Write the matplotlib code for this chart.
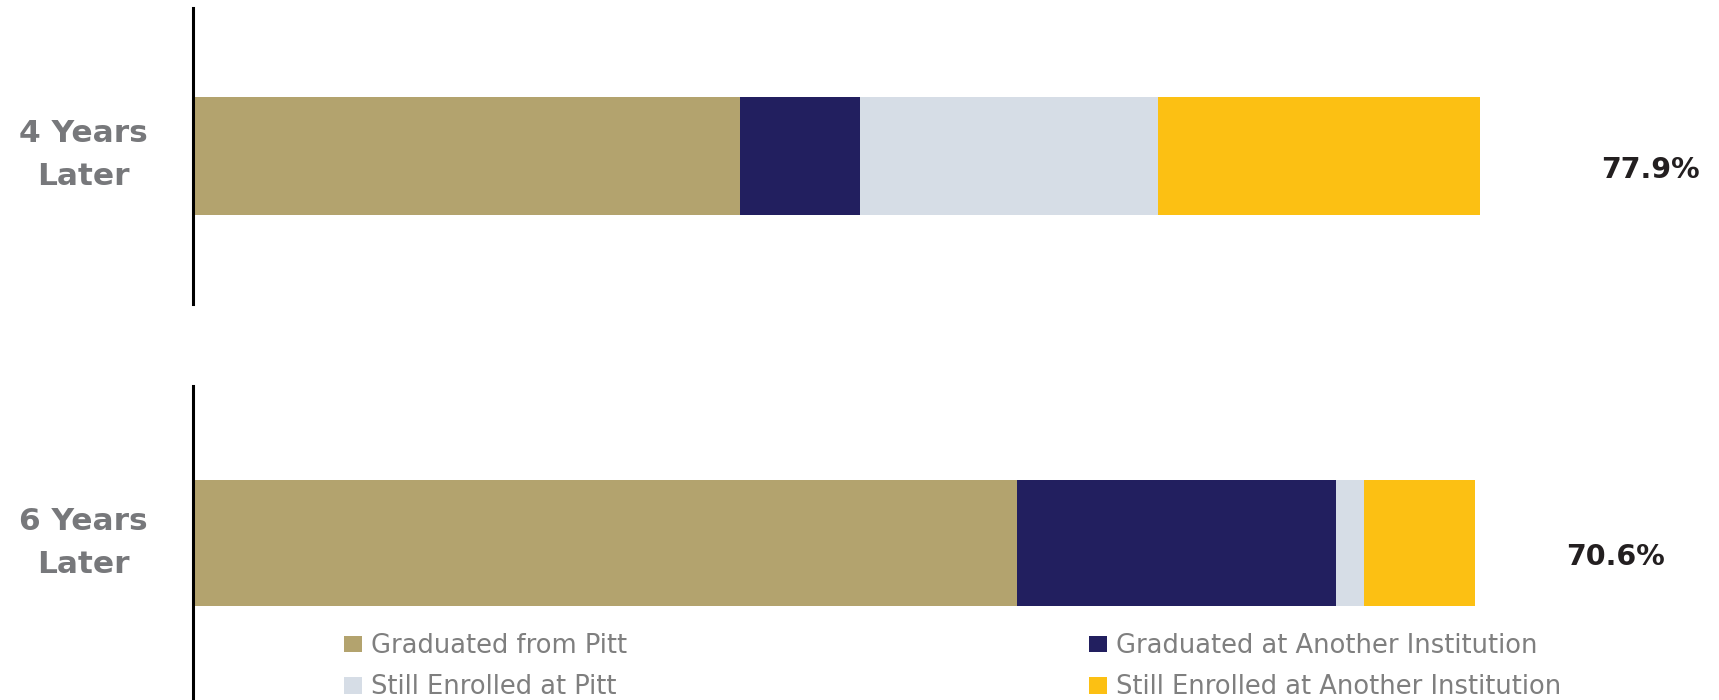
import matplotlib.pyplot as plt
from matplotlib.patches import Patch

# Shares (%)
categories = ["4 Years\nLater", "6 Years\nLater"]
series = [
    "Graduated from Pitt",
    "Graduated at Another Institution",
    "Still Enrolled at Pitt",
    "Still Enrolled at Another Institution",
]
grad_pitt = [38.0, 57.2]
grad_other = [8.3, 22.2]
enrolled_pitt = [20.7, 1.9]
enrolled_other = [22.4, 7.7]
totals = ["77.9%", "70.6%"]

colors = ["#b3a36e", "#221f5f", "#d6dde6", "#fcc013"]
label_gray = "#77787b"
legend_gray = "#7f7f7f"

fig = plt.figure(figsize=(17.19, 7.0), dpi=100)
ax_top = fig.add_axes([193 / 1719, 1 - 304 / 700, 1440 / 1719, 296 / 700])
ax_bot = fig.add_axes([193 / 1719, 0.0, 1440 / 1719, 314 / 700])

values = list(zip(grad_pitt, grad_other, enrolled_pitt, enrolled_other))
total_x = [101.2, 98.8]
cat_y = [1 - 155 / 700, 1 - 543 / 700]

for i, ax in enumerate([ax_top, ax_bot]):
    left = 0
    for v, col in zip(values[i], colors):
        ax.barh(0, v, left=left, height=0.4, color=col)
        left += v
    ax.set_xlim(0, 100)
    ax.set_ylim(-0.5, 0.5)
    for s in ["top", "right", "bottom"]:
        ax.spines[s].set_visible(False)
    ax.spines["left"].set_linewidth(2.2)
    ax.spines["left"].set_color("black")
    ax.set_xticks([])
    ax.set_yticks([])
    ax.text(total_x[i], -0.046, totals[i], ha="center", va="center",
            fontsize=20.5, fontweight="bold", color="#231f20", clip_on=False)
    fig.text(0.0483, cat_y[i], categories[i], ha="center", va="center",
             fontsize=22.5, fontweight="bold", color=label_gray, linespacing=1.6)

handles = [Patch(facecolor=c, edgecolor="none") for c in colors]
leg_kw = dict(loc="upper left", frameon=False, borderpad=0, borderaxespad=0,
              handlelength=0.7, handleheight=0.6, handletextpad=0.35,
              labelspacing=0.6, labelcolor=legend_gray,
              prop={"family": "DejaVu Sans", "size": 18.5})
fig.legend([handles[0], handles[2]], [series[0], series[2]],
           bbox_to_anchor=(344 / 1719, 1 - 633 / 700), **leg_kw)
fig.legend([handles[1], handles[3]], [series[1], series[3]],
           bbox_to_anchor=(1089 / 1719, 1 - 633 / 700), **leg_kw)

fig.savefig("out.png", dpi=100)
